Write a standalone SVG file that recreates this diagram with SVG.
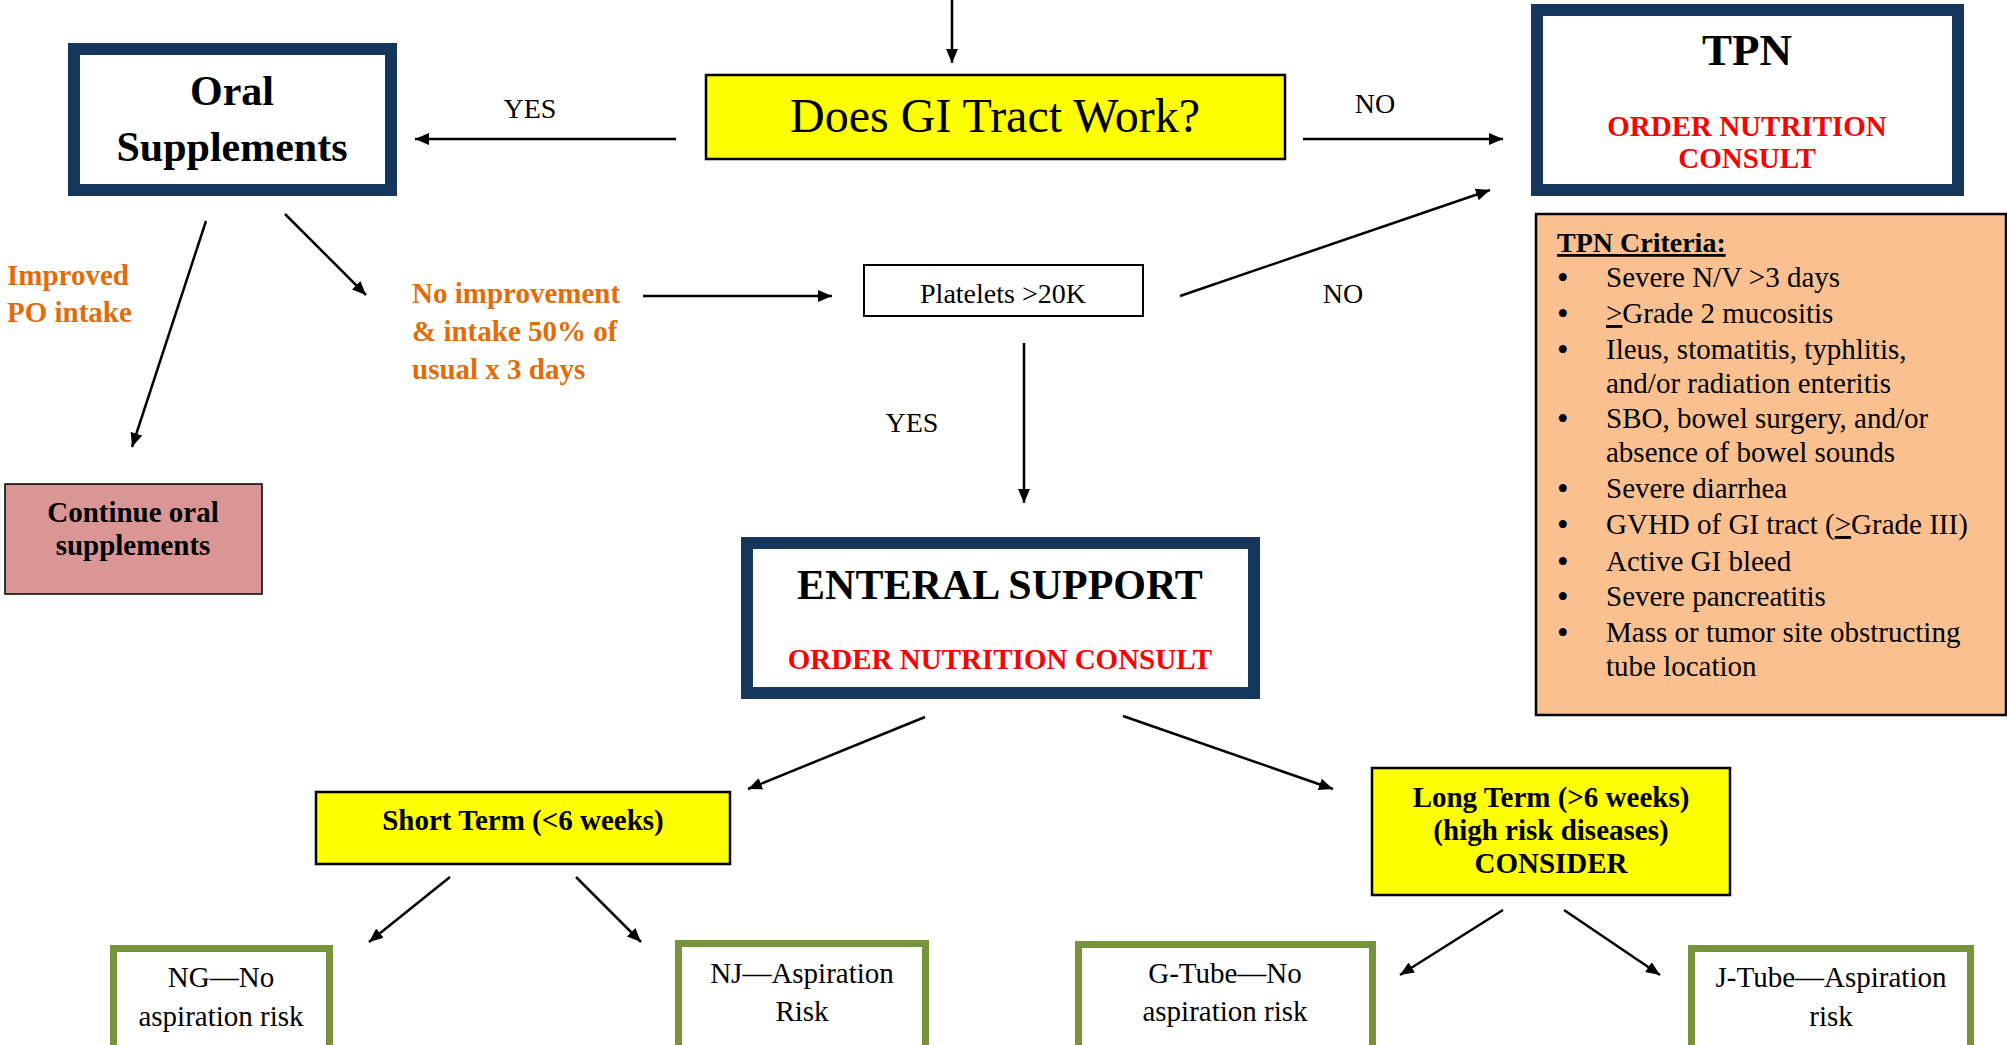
<svg xmlns="http://www.w3.org/2000/svg" width="2007" height="1045" viewBox="0 0 2007 1045">
<defs>
<style>
text{font-family:"Liberation Serif","Times New Roman",serif;fill:#000}
.b{font-weight:bold}
.c{text-anchor:middle}
.navy{fill:#fff;stroke:#17365D;stroke-width:12}
.yel{fill:#FFFF00;stroke:#000;stroke-width:2.5}
.grn{fill:#fff;stroke:#77933C;stroke-width:7}
.red{fill:#FF0000}
.org{fill:#E36C0A}
.con line{stroke:#000;stroke-width:2.5;fill:none}
.arr{marker-end:url(#ah)}
.u{text-decoration:underline}
.bul{font-size:33px}
</style>
<marker id="ah" markerUnits="userSpaceOnUse" markerWidth="14" markerHeight="12" refX="14" refY="6" orient="auto">
<path d="M0,0 L14,6 L0,12 z" fill="#000"/>
</marker>
</defs>
<rect width="2007" height="1045" fill="#fff"/>

<g class="con">
<line class="arr" x1="952" y1="0" x2="952" y2="63"/>
<line class="arr" x1="676" y1="139" x2="415" y2="139"/>
<line class="arr" x1="1303" y1="139" x2="1503" y2="139"/>
<line class="arr" x1="206" y1="221" x2="132" y2="447"/>
<line class="arr" x1="285" y1="214" x2="366" y2="295"/>
<line class="arr" x1="643" y1="296" x2="832" y2="296"/>
<line class="arr" x1="1180" y1="296" x2="1490" y2="190"/>
<line class="arr" x1="1024" y1="343" x2="1024" y2="503"/>
<line class="arr" x1="925" y1="717" x2="748" y2="789"/>
<line class="arr" x1="1123" y1="716" x2="1333" y2="789"/>
<line class="arr" x1="450" y1="877" x2="369" y2="942"/>
<line class="arr" x1="576" y1="877" x2="641" y2="942"/>
<line class="arr" x1="1503" y1="910" x2="1400" y2="975"/>
<line class="arr" x1="1564" y1="910" x2="1660" y2="975"/>
</g>

<g id="labels">
<text x="530" y="118" font-size="28" class="c">YES</text>
<text x="1375" y="113" font-size="28" class="c">NO</text>
<text x="1343" y="303" font-size="28" class="c">NO</text>
<text x="912" y="432" font-size="28" class="c">YES</text>
<text x="7" y="285" font-size="29" class="b org">Improved</text>
<text x="7" y="322" font-size="29" class="b org">PO intake</text>
<text x="412" y="303" font-size="29" class="b org">No improvement</text>
<text x="412" y="341" font-size="29" class="b org">&amp; intake 50% of</text>
<text x="412" y="379" font-size="29" class="b org">usual x 3 days</text>
</g>

<g id="gi">
<rect x="706" y="75" width="579" height="84" class="yel"/>
<text x="995" y="132" font-size="48" class="c">Does GI Tract Work?</text>
</g>

<g id="oral">
<rect x="74" y="49" width="317" height="141" class="navy"/>
<text x="232" y="105" font-size="42" class="b c">Oral</text>
<text x="232" y="161" font-size="42" class="b c">Supplements</text>
</g>

<g id="tpn">
<rect x="1537" y="10" width="421" height="180" class="navy"/>
<text x="1747" y="65" font-size="45" class="b c">TPN</text>
<text x="1747" y="136" font-size="29" class="b c red">ORDER NUTRITION</text>
<text x="1747" y="168" font-size="29" class="b c red">CONSULT</text>
</g>

<g id="criteria">
<rect x="1536" y="214" width="470" height="501" fill="#FAC08F" stroke="#000" stroke-width="2.5"/>
<text x="1557" y="252" font-size="28" class="b u">TPN Criteria:</text>
<g font-size="29">
<text y="287"><tspan x="1557" class="bul" dy="2">•</tspan><tspan x="1606" dy="-2">Severe N/V &gt;3 days</tspan></text>
<text y="323"><tspan x="1557" class="bul" dy="2">•</tspan><tspan x="1606" dy="-2"><tspan class="u">&gt;</tspan>Grade 2 mucositis</tspan></text>
<text y="359"><tspan x="1557" class="bul" dy="2">•</tspan><tspan x="1606" dy="-2">Ileus, stomatitis, typhlitis,</tspan></text>
<text x="1606" y="393">and/or radiation enteritis</text>
<text y="428"><tspan x="1557" class="bul" dy="2">•</tspan><tspan x="1606" dy="-2">SBO, bowel surgery, and/or</tspan></text>
<text x="1606" y="462">absence of bowel sounds</text>
<text y="498"><tspan x="1557" class="bul" dy="2">•</tspan><tspan x="1606" dy="-2">Severe diarrhea</tspan></text>
<text y="534"><tspan x="1557" class="bul" dy="2">•</tspan><tspan x="1606" dy="-2">GVHD of GI tract (<tspan class="u">&gt;</tspan>Grade III)</tspan></text>
<text y="571"><tspan x="1557" class="bul" dy="2">•</tspan><tspan x="1606" dy="-2">Active GI bleed</tspan></text>
<text y="606"><tspan x="1557" class="bul" dy="2">•</tspan><tspan x="1606" dy="-2">Severe pancreatitis</tspan></text>
<text y="642"><tspan x="1557" class="bul" dy="2">•</tspan><tspan x="1606" dy="-2">Mass or tumor site obstructing</tspan></text>
<text x="1606" y="676">tube location</text>
</g>
</g>

<g id="platelets">
<rect x="864" y="265" width="279" height="51" fill="#fff" stroke="#000" stroke-width="2"/>
<text x="1003" y="303" font-size="28" class="c">Platelets &gt;20K</text>
</g>

<g id="continue">
<rect x="5" y="484" width="257" height="110" fill="#D99694" stroke="#000" stroke-width="1.5"/>
<text x="133" y="522" font-size="29" class="b c">Continue oral</text>
<text x="133" y="555" font-size="29" class="b c">supplements</text>
</g>

<g id="enteral">
<rect x="747" y="543" width="507" height="150" class="navy"/>
<text x="1000" y="599" font-size="42" class="b c">ENTERAL SUPPORT</text>
<text x="1000" y="669" font-size="29" class="b c red">ORDER NUTRITION CONSULT</text>
</g>

<g id="short">
<rect x="316" y="792" width="414" height="72" class="yel"/>
<text x="523" y="830" font-size="29" class="b c">Short Term (&lt;6 weeks)</text>
</g>

<g id="long">
<rect x="1372" y="768" width="358" height="127" class="yel"/>
<text x="1551" y="807" font-size="29" class="b c">Long Term (&gt;6 weeks)</text>
<text x="1551" y="840" font-size="29" class="b c">(high risk diseases)</text>
<text x="1551" y="873" font-size="29" class="b c">CONSIDER</text>
</g>

<g id="ng">
<rect x="113.5" y="948.5" width="216" height="120" class="grn"/>
<text x="221" y="987" font-size="29" class="c">NG—No</text>
<text x="221" y="1026" font-size="29" class="c">aspiration risk</text>
</g>

<g id="nj">
<rect x="678.5" y="943.5" width="247" height="120" class="grn"/>
<text x="802" y="983" font-size="29" class="c">NJ—Aspiration</text>
<text x="802" y="1021" font-size="29" class="c">Risk</text>
</g>

<g id="gtube">
<rect x="1078.5" y="944.5" width="294" height="120" class="grn"/>
<text x="1225" y="983" font-size="29" class="c">G-Tube—No</text>
<text x="1225" y="1021" font-size="29" class="c">aspiration risk</text>
</g>

<g id="jtube">
<rect x="1691.5" y="948.5" width="279" height="120" class="grn"/>
<text x="1831" y="987" font-size="29" class="c">J-Tube—Aspiration</text>
<text x="1831" y="1026" font-size="29" class="c">risk</text>
</g>
</svg>
